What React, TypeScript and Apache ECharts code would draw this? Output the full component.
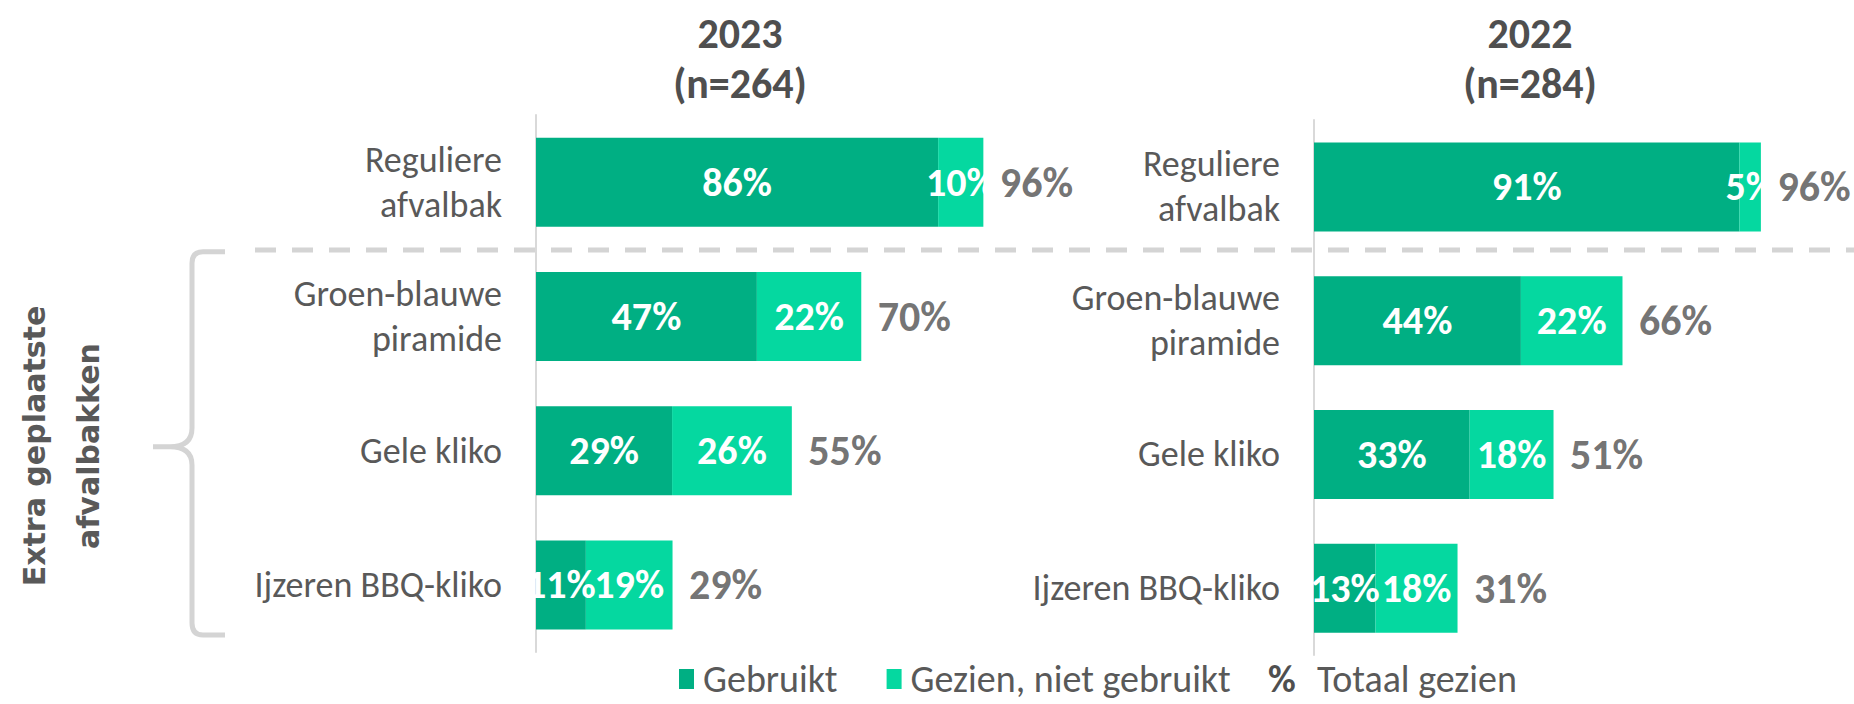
import React, { useEffect, useRef } from "react";
import * as echarts from "echarts";

const categories = ["Reguliere\nafvalbak", "Groen-blauwe\npiramide", "Gele kliko", "Ijzeren BBQ-kliko"];
const years = ["2023", "2022"];
const sampleSizes = ["(n=264)", "(n=284)"];
const used2023 = [86.3, 47.4, 29.2, 10.7];
const seen2023 = [9.7, 22.4, 25.7, 18.6];
const total2023 = [96, 70, 55, 29];
const used2022 = [91.3, 44.4, 33.4, 13.2];
const seen2022 = [4.6, 21.8, 18.0, 17.6];
const total2022 = [96, 66, 51, 31];
const seriesNames = ["Gebruikt", "Gezien, niet gebruikt"];
const totalLegend = "Totaal gezien";
const groupLabel = ["Extra geplaatste", "afvalbakken"];

const FONT = "Carlito, 'Liberation Sans', sans-serif";
const GRAY = "#595959";
const DARK = "#4F4F4F";
const C_USED = "#00AF83";
const C_SEEN = "#05D8A0";
const LINE = "#D4D4D4";

const braceD =
  "M225,251.7 L203,251.7 Q192,251.7 192,263 L192,428 Q192,446.7 170,446.7 L153,446.7 M170,446.7 Q192,446.7 192,465 L192,623 Q192,635 203,635 L225,635";

let registered = false;

export default function App() {
  const ref = useRef<HTMLDivElement>(null);
  useEffect(() => {
    document.body.style.margin = "0";
    if (!registered) {
      echarts.graphic.registerShape("brace", echarts.graphic.extendPath(braceD, {}));
      registered = true;
    }
    const chart = echarts.init(ref.current!, undefined, { renderer: "svg" });
    const pct = (p: any) => Math.round(p.value) + "%";
    const insideLabel = {
      show: true,
      position: "inside",
      color: "#ffffff",
      fontSize: 40,
      fontWeight: "bold",
      fontFamily: FONT,
      formatter: pct,
    };
    const makeSeries = (gi: number, used: number[], seen: number[], totals: number[]) => [
      {
        name: seriesNames[0],
        type: "bar",
        stack: "s" + gi,
        xAxisIndex: gi,
        yAxisIndex: gi,
        barWidth: 89,
        data: used,
        itemStyle: { color: C_USED },
        label: insideLabel,
      },
      {
        name: seriesNames[1],
        type: "bar",
        stack: "s" + gi,
        xAxisIndex: gi,
        yAxisIndex: gi,
        barWidth: 89,
        data: seen,
        itemStyle: { color: C_SEEN },
        label: insideLabel,
      },
      {
        type: "scatter",
        xAxisIndex: gi,
        yAxisIndex: gi,
        symbolSize: 1,
        itemStyle: { color: "rgba(0,0,0,0)" },
        silent: true,
        data: used.map((u, i) => [u + seen[i], i]),
        label: {
          show: true,
          position: "right",
          distance: 16,
          color: DARK,
          fontSize: 42,
          fontWeight: "bold",
          fontFamily: FONT,
          formatter: (p: any) => totals[p.dataIndex] + "%",
        },
      },
    ];
    const yAxisBase = (gi: number) => ({
      gridIndex: gi,
      type: "category",
      inverse: true,
      data: categories,
      axisLine: { show: true, lineStyle: { color: "#D9D9D9", width: 2 } },
      axisTick: { show: false },
      splitLine: { show: false },
      axisLabel: { margin: 34, fontSize: 36, color: GRAY, fontFamily: FONT, lineHeight: 45 },
    });
    const titleText = (x: number, i: number) => ({
      type: "text",
      x,
      y: 8,
      style: {
        text: years[i] + "\n" + sampleSizes[i],
        fill: DARK,
        fontSize: 42,
        fontWeight: "bold",
        fontFamily: FONT,
        textAlign: "center",
        textVerticalAlign: "top",
        lineHeight: 50,
      },
    });
    chart.setOption({
      animation: false,
      grid: [
        { left: 536, top: 115, width: 466, height: 537 },
        { left: 1314, top: 120, width: 466, height: 535 },
      ],
      xAxis: [
        { gridIndex: 0, type: "value", min: 0, max: 100, show: false },
        { gridIndex: 1, type: "value", min: 0, max: 100, show: false },
      ],
      yAxis: [yAxisBase(0), yAxisBase(1)],
      legend: {
        data: seriesNames,
        left: 679,
        top: 660,
        padding: 0,
        itemWidth: 15,
        itemHeight: 20,
        itemGap: 49,
        icon: "rect",
        textStyle: { fontSize: 38, color: GRAY, fontFamily: FONT, padding: [0, 0, 0, 4], lineHeight: 38 },
      },
      series: [
        ...makeSeries(0, used2023, seen2023, total2023),
        ...makeSeries(1, used2022, seen2022, total2022),
      ],
      graphic: [
        titleText(740, 0),
        titleText(1530, 1),
        {
          type: "line",
          shape: { x1: 255, y1: 250, x2: 1854, y2: 250 },
          style: { stroke: LINE, lineWidth: 5, lineDash: [21, 16] },
          z: 10,
        },
        {
          type: "brace",
          x: 0,
          y: 0,
          style: { fill: "none", stroke: LINE, lineWidth: 5 },
        },
        {
          type: "text",
          x: 34,
          y: 446,
          rotation: Math.PI / 2,
          style: {
            text: groupLabel[0],
            fill: GRAY,
            fontSize: 30,
            fontWeight: "bold",
            fontFamily: "'DejaVu Sans', Verdana, sans-serif",
            textAlign: "center",
            textVerticalAlign: "middle",
          },
        },
        {
          type: "text",
          x: 88,
          y: 446,
          rotation: Math.PI / 2,
          style: {
            text: groupLabel[1],
            fill: GRAY,
            fontSize: 30,
            fontWeight: "bold",
            fontFamily: "'DejaVu Sans', Verdana, sans-serif",
            textAlign: "center",
            textVerticalAlign: "middle",
          },
        },
        {
          type: "text",
          x: 1268,
          y: 679,
          style: {
            text: "%",
            fill: DARK,
            fontSize: 38,
            fontWeight: "bold",
            fontFamily: FONT,
            textAlign: "left",
            textVerticalAlign: "middle",
          },
        },
        {
          type: "text",
          x: 1317,
          y: 679,
          style: {
            text: totalLegend,
            fill: GRAY,
            fontSize: 38,
            fontFamily: FONT,
            textAlign: "left",
            textVerticalAlign: "middle",
          },
        },
      ],
    });
    return () => chart.dispose();
  }, []);
  return <div ref={ref} style={{ width: 1854, height: 704 }} />;
}
